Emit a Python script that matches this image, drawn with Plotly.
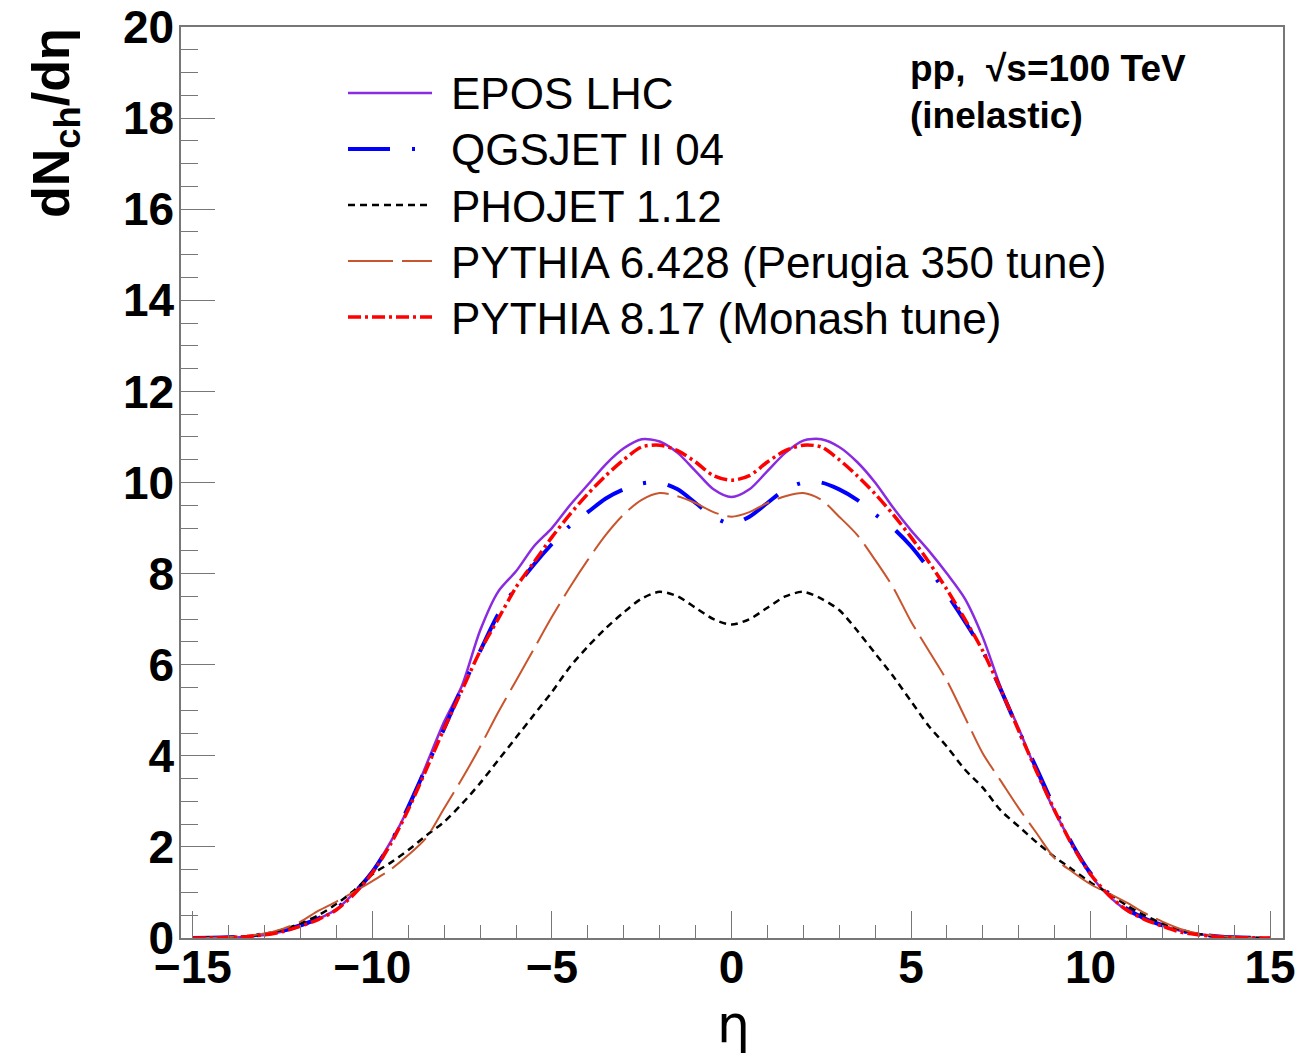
import plotly.graph_objects as go

# ---------------- data ----------------
eta = [-15, -14.5, -14, -13.5, -13, -12.5, -12, -11.5, -11, -10.5,
       -10, -9.5, -9, -8.5, -8, -7.5, -7, -6.5, -6, -5.5,
       -5, -4.5, -4, -3.5, -3, -2.5, -2, -1.5, -1, -0.5,
       0, 0.5, 1, 1.5, 2, 2.5, 3, 3.5, 4, 4.5,
       5, 5.5, 6, 6.5, 7, 7.5, 8, 8.5, 9, 9.5,
       10, 10.5, 11, 11.5, 12, 12.5, 13, 13.5, 14, 14.5, 15]

epos = [0.0, 0.005, 0.012, 0.03, 0.065, 0.14, 0.26, 0.42, 0.63, 1.0,
        1.48, 2.1, 2.85, 3.8, 4.75, 5.55, 6.75, 7.6, 8.05, 8.6,
        9.0, 9.5, 9.95, 10.4, 10.75, 10.95, 10.9, 10.65, 10.25, 9.85,
        9.68, 9.85, 10.25, 10.65, 10.92, 10.95, 10.78, 10.45, 10.0, 9.45,
        8.95, 8.5, 8.0, 7.45, 6.6, 5.5, 4.6, 3.65, 2.78, 2.05,
        1.38, 0.93, 0.61, 0.42, 0.27, 0.16, 0.09, 0.04, 0.015, 0.005, 0.0]

qgsjet = [0.0, 0.005, 0.015, 0.04, 0.085, 0.16, 0.28, 0.43, 0.65, 1.0,
          1.45, 2.08, 2.88, 3.75, 4.6, 5.5, 6.3, 7.1, 7.7, 8.2,
          8.65, 9.05, 9.35, 9.65, 9.85, 9.98, 10.0, 9.85, 9.55, 9.25,
          9.09, 9.25, 9.55, 9.85, 10.0, 10.0, 9.85, 9.62, 9.3, 9.0,
          8.6, 8.1, 7.55, 6.95, 6.3, 5.45, 4.55, 3.72, 2.85, 2.05,
          1.42, 0.98, 0.65, 0.43, 0.28, 0.16, 0.085, 0.04, 0.015, 0.005, 0.0]

phojet = [0.0, 0.005, 0.015, 0.04, 0.09, 0.18, 0.32, 0.5, 0.75, 1.05,
          1.4, 1.65, 1.93, 2.25, 2.55, 2.95, 3.4, 3.9, 4.4, 4.9,
          5.4, 5.95, 6.4, 6.8, 7.15, 7.45, 7.6, 7.5, 7.25, 7.0,
          6.88, 7.0, 7.25, 7.5, 7.6, 7.45, 7.2, 6.75, 6.25, 5.75,
          5.2, 4.65, 4.2, 3.7, 3.3, 2.8, 2.45, 2.1, 1.78, 1.5,
          1.22, 0.98, 0.72, 0.5, 0.32, 0.18, 0.09, 0.04, 0.015, 0.005, 0.0]

pythia6 = [0.0, 0.005, 0.02, 0.05, 0.1, 0.2, 0.36, 0.6, 0.8, 1.02,
           1.25, 1.5, 1.82, 2.2, 2.85, 3.5, 4.2, 4.95, 5.65, 6.35,
           7.05, 7.7, 8.3, 8.85, 9.3, 9.62, 9.77, 9.7, 9.55, 9.35,
           9.25, 9.35, 9.55, 9.7, 9.77, 9.62, 9.25, 8.85, 8.3, 7.7,
           6.95, 6.3, 5.65, 4.85, 4.05, 3.45, 2.85, 2.3, 1.75, 1.45,
           1.18, 0.98, 0.78, 0.55, 0.36, 0.2, 0.1, 0.05, 0.02, 0.005, 0.0]

pythia8 = [0.0, 0.004, 0.012, 0.03, 0.07, 0.14, 0.26, 0.41, 0.62, 0.97,
           1.43, 2.05, 2.82, 3.7, 4.6, 5.45, 6.3, 7.0, 7.7, 8.25,
           8.8, 9.3, 9.75, 10.15, 10.5, 10.78, 10.82, 10.7, 10.45, 10.15,
           10.05, 10.15, 10.45, 10.7, 10.82, 10.78, 10.5, 10.15, 9.75, 9.3,
           8.8, 8.25, 7.65, 7.0, 6.3, 5.45, 4.55, 3.65, 2.8, 2.02,
           1.4, 0.95, 0.62, 0.41, 0.26, 0.13, 0.07, 0.03, 0.012, 0.004, 0.0]

series_names = ["EPOS LHC", "QGSJET II 04", "PHOJET 1.12",
                "PYTHIA 6.428 (Perugia 350 tune)", "PYTHIA 8.17 (Monash tune)"]
series_values = [epos, qgsjet, phojet, pythia6, pythia8]
series_colors = ["#8A2BE2", "#0000FF", "#000000", "#C8552D", "#FF0000"]
series_widths = [2.5, 4, 2.5, 2, 3.5]
series_dashes = ["solid", "42px,22px,3px,22px", "7px,5px", "45px,9px", "13px,4px,3px,4px"]

x_ticks = [-15, -10, -5, 0, 5, 10, 15]
y_ticks = [0, 2, 4, 6, 8, 10, 12, 14, 16, 18, 20]

# ---------------- geometry ----------------
W, H = 1313, 1054
L, R, T, B = 181, 1283, 27, 938


def px(xp):
    return (xp - L) / (R - L)


def py(yp):
    return (B - yp) / (B - T)


fig = go.Figure()
for name, vals, col, wd, ds in zip(series_names, series_values, series_colors,
                                   series_widths, series_dashes):
    fig.add_trace(go.Scatter(
        x=eta, y=vals, mode="lines", name=name, showlegend=False,
        line=dict(color=col, width=wd, dash=ds, shape="spline", smoothing=0.8),
        hoverinfo="skip"))

tick_font = dict(family="Liberation Sans", size=46, color="black", weight="bold")

fig.update_layout(
    width=W, height=H,
    margin=dict(l=L, r=W - R, t=T, b=H - B, autoexpand=False),
    paper_bgcolor="white", plot_bgcolor="white",
    showlegend=False,
    xaxis=dict(range=[-15.33, 15.36], tickvals=x_ticks,
               ticktext=[("\u2212" + str(-v)) if v < 0 else str(v) for v in x_ticks],
               ticks="inside", ticklen=27, tickwidth=1.2, tickcolor="#777777",
               minor=dict(dtick=1, tick0=0, ticks="inside", ticklen=13,
                          tickwidth=1.2, tickcolor="#777777"),
               showline=True, mirror=True, linecolor="#777777", linewidth=1.5,
               showgrid=False, zeroline=False, tickfont=tick_font,
               ticklabelstandoff=-12, automargin=False),
    yaxis=dict(range=[0, 20], tickvals=y_ticks,
               ticks="inside", ticklen=34, tickwidth=1.2, tickcolor="#777777",
               minor=dict(dtick=0.5, tick0=0, ticks="inside", ticklen=17,
                          tickwidth=1.2, tickcolor="#777777"),
               showline=True, mirror=True, linecolor="#777777", linewidth=1.5,
               showgrid=False, zeroline=False, tickfont=tick_font,
               ticklabelstandoff=-4, automargin=False),
)

annotations = []
shapes = []

# axis titles
annotations.append(dict(
    text="dN<sub>ch</sub>/d\u03b7", xref="paper", yref="paper",
    x=px(55), y=py(26), xanchor="center", yanchor="top", textangle=-90,
    showarrow=False,
    font=dict(family="Liberation Sans", size=52, color="black", weight="bold")))
annotations.append(dict(
    text="\u03b7", xref="paper", yref="paper",
    x=px(733), y=py(1024), xanchor="center", yanchor="middle",
    showarrow=False,
    font=dict(family="DejaVu Sans", size=52, color="black")))

# energy label
annotations.append(dict(
    text="pp,  \u221as=100 TeV", xref="paper", yref="paper",
    x=px(908), y=py(69), xanchor="left", yanchor="middle", showarrow=False,
    font=dict(family="Liberation Sans", size=37, color="black", weight="bold")))
annotations.append(dict(
    text="(inelastic)", xref="paper", yref="paper",
    x=px(908), y=py(115), xanchor="left", yanchor="middle", showarrow=False,
    font=dict(family="Liberation Sans", size=37, color="black", weight="bold")))

# custom legend
rows = [93, 149, 205, 261, 317]
for name, col, wd, ds, ry in zip(series_names, series_colors, series_widths,
                                  series_dashes, rows):
    shapes.append(dict(type="line", xref="paper", yref="paper",
                       x0=px(348), x1=px(432), y0=py(ry), y1=py(ry),
                       line=dict(color=col, width=wd, dash=ds)))
    annotations.append(dict(
        text=name, xref="paper", yref="paper",
        x=px(449), y=py(ry + 1), xanchor="left", yanchor="middle",
        showarrow=False,
        font=dict(family="Liberation Sans", size=44, color="black")))

fig.update_layout(annotations=annotations, shapes=shapes)

fig.write_html("out.html")
